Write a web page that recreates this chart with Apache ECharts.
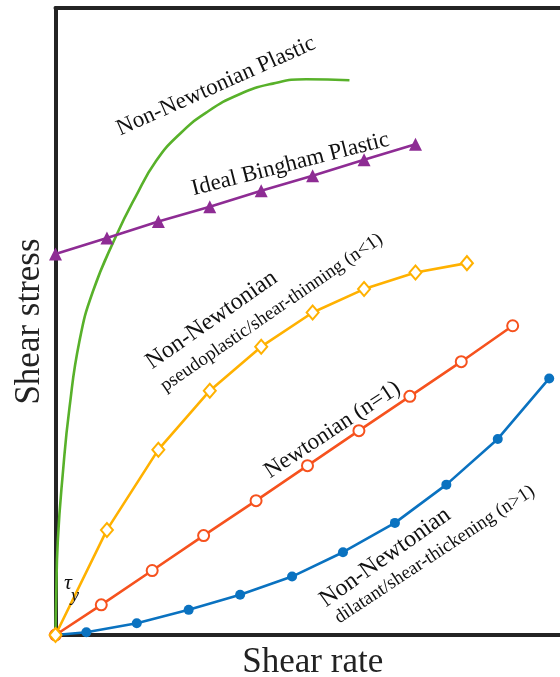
<!DOCTYPE html>
<html>
<head>
<meta charset="utf-8">
<script src="https://cdn.jsdelivr.net/npm/echarts@6/dist/echarts.min.js"></script>
<style>
  html, body { margin: 0; padding: 0; background: #ffffff; }
  #chart { width: 560px; height: 677px; }
</style>
</head>
<body>
<div id="chart"></div>
<script>
// Rheology sketch: shear stress versus shear rate for several fluid models.

// Non-Newtonian plastic (smooth curve, no markers)
const plasticRate   = [0, 0.012, 0.045, 0.142, 0.272, 0.467, 0.725, 1.180, 1.556, 1.958, 2.411, 2.930, 3.578, 4.225, 4.874, 5.716];
const plasticStress = [0, 5.50, 15.06, 25.74, 36.26, 46.93, 54.74, 63.67, 69.88, 75.62, 79.87, 83.31, 86.25, 87.94, 88.64, 88.48];

// Ideal Bingham plastic
const binghamRate   = [0, 1, 2, 3, 4, 5, 6, 7];
const binghamStress = [60.75, 63.30, 65.94, 68.29, 70.84, 73.23, 75.78, 78.28];

// Pseudoplastic / shear-thinning
const thinningRate   = [0, 1, 2, 3, 4, 5, 6, 7, 8];
const thinningStress = [0, 16.76, 29.56, 38.96, 45.98, 51.44, 55.17, 57.82, 59.31];

// Newtonian
const newtonRate   = [0, 0.89, 1.88, 2.88, 3.90, 4.90, 5.90, 6.89, 7.89, 8.89];
const newtonStress = [0, 4.81, 10.28, 15.86, 21.43, 27.01, 32.59, 38.06, 43.59, 49.32];

// Dilatant / shear-thickening
const thickeningRate   = [0, 0.60, 1.58, 2.59, 3.59, 4.60, 5.59, 6.60, 7.60, 8.60, 9.60];
const thickeningStress = [0, 0.45, 1.88, 4.01, 6.41, 9.32, 13.20, 17.88, 23.98, 31.27, 40.92];

const xTitle = 'Shear rate';
const yTitle = 'Shear stress';

const pairs = (xs, ys) => xs.map((x, i) => [x, ys[i]]);

const SERIF = '"Liberation Serif", "Times New Roman", serif';
const AXIS_COLOR = '#242424';

// annotation placement: left end of the baseline, angle in degrees, size
function label(text, x0, y0, angleDeg, size) {
  const a = angleDeg * Math.PI / 180;
  const off = 0.34 * size;
  return {
    type: 'text',
    x: x0 - off * Math.sin(a),
    y: y0 - off * Math.cos(a),
    rotation: a,
    style: {
      text: text,
      fill: '#111111',
      font: size + 'px ' + SERIF,
      align: 'left',
      verticalAlign: 'middle'
    },
    z: 10
  };
}

const chart = echarts.init(document.getElementById('chart'), null, { renderer: 'canvas' });

const lineW = 2.6;
const xMax = 9.81;

chart.setOption({
  animation: false,
  backgroundColor: '#ffffff',
  grid: { left: 55.5, top: 8, right: 0, bottom: 42, outerBoundsMode: 'none', containLabel: false },
  xAxis: [
    {
      type: 'value', min: 0, max: xMax,
      name: xTitle, nameLocation: 'middle', nameGap: 10,
      nameTextStyle: { fontFamily: SERIF, fontSize: 35, color: '#222222', verticalAlign: 'top', padding: [0, 0, 0, 10] },
      axisLine: { show: true, onZero: false, lineStyle: { color: AXIS_COLOR, width: 4 } },
      axisTick: { show: false }, axisLabel: { show: false }, splitLine: { show: false }
    },
    {
      type: 'value', min: 0, max: xMax, position: 'top',
      axisLine: { show: true, onZero: false, lineStyle: { color: AXIS_COLOR, width: 4 } },
      axisTick: { show: false }, axisLabel: { show: false }, splitLine: { show: false }
    }
  ],
  yAxis: {
    type: 'value', min: 0, max: 100,
    name: yTitle, nameLocation: 'middle', nameGap: 8, nameRotate: 90,
    nameTextStyle: { fontFamily: SERIF, fontSize: 35, color: '#222222' },
    axisLine: { show: true, onZero: false, lineStyle: { color: AXIS_COLOR, width: 4 } },
    axisTick: { show: false }, axisLabel: { show: false }, splitLine: { show: false }
  },
  series: [
    {
      name: 'Non-Newtonian Plastic', type: 'line',
      data: pairs(plasticRate, plasticStress),
      smooth: 0.5, showSymbol: false, symbol: 'none',
      lineStyle: { color: '#58B12A', width: lineW }, z: 3
    },
    {
      name: 'Ideal Bingham Plastic', type: 'line',
      data: pairs(binghamRate, binghamStress),
      symbol: 'triangle', symbolSize: 13,
      itemStyle: { color: '#8E2C94' },
      lineStyle: { color: '#8E2C94', width: lineW }, z: 4
    },
    {
      name: 'Dilatant', type: 'line',
      data: pairs(thickeningRate, thickeningStress),
      symbol: 'circle', symbolSize: 10,
      itemStyle: { color: '#0A72C0' },
      lineStyle: { color: '#0A72C0', width: lineW }, z: 5
    },
    {
      name: 'Newtonian', type: 'line',
      data: pairs(newtonRate, newtonStress),
      symbol: 'emptyCircle', symbolSize: 11,
      itemStyle: { color: '#F6521E', borderColor: '#F6521E', borderWidth: 2.4 },
      lineStyle: { color: '#F6521E', width: lineW }, z: 6
    },
    {
      name: 'Pseudoplastic', type: 'line',
      data: pairs(thinningRate, thinningStress),
      symbol: 'emptyDiamond', symbolSize: [12, 14],
      itemStyle: { color: '#FFB100', borderColor: '#FFB100', borderWidth: 2.4 },
      lineStyle: { color: '#FFB100', width: lineW }, z: 7
    }
  ],
  graphic: [
    label('Non-Newtonian Plastic', 121, 137, 24, 23),
    label('Ideal Bingham Plastic', 194, 197, 14.3, 23),
    label('Non-Newtonian', 153, 371, 35, 24),
    label('pseudoplastic/shear-thinning (n<1)', 166, 393, 34.5, 19),
    label('Newtonian (n=1)', 271, 480, 33.5, 23),
    label('Non-Newtonian', 327, 609, 35.5, 24),
    label('dilatant/shear-thickening (n>1)', 340, 625, 33.5, 19),
    {
      type: 'text', x: 68, y: 583, z: 10,
      style: { text: 'τ', fill: '#111111', font: 'italic 22px ' + SERIF, align: 'center', verticalAlign: 'middle' }
    },
    {
      type: 'text', x: 75, y: 596, z: 10,
      style: { text: 'y', fill: '#111111', font: 'italic 18px ' + SERIF, align: 'center', verticalAlign: 'middle' }
    }
  ]
});
</script>
</body>
</html>
